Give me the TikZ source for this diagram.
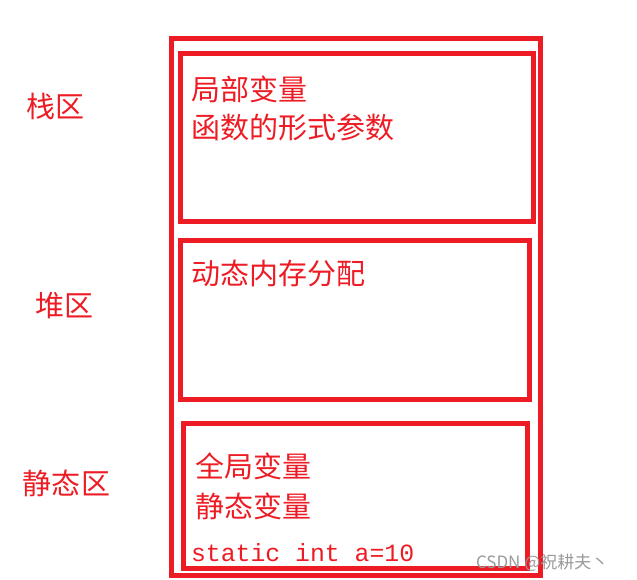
\documentclass[tikz,border=0pt]{standalone}
\usepackage{xcolor}
\usepackage{fontspec}
\usepackage{tikz}
\newfontfamily\cjk{Noto Sans CJK SC}
\setmonofont{Liberation Mono}
\definecolor{paintred}{HTML}{ED1C24}
\tikzset{x=1pt, y=-1pt,
         every node/.style={inner sep=0pt, outer sep=0pt},
         box/.style={draw=paintred, line width=5pt},
         txt/.style={anchor=base west, text=paintred, font=\cjk\fontsize{29}{29}\selectfont},
         code/.style={anchor=base west, text=paintred, font=\ttfamily\fontsize{24.8}{24.8}\selectfont},
         wmark/.style={anchor=base west, text=black!40, font=\cjk\fontsize{17}{17}\selectfont},
         }

\begin{document}
\begin{tikzpicture}
    \useasboundingbox (0,0) rectangle (637,579);

    \node[box, minimum width=368.5pt, minimum height=537.5pt] (mem) at (355.75,306.75) {};
    \node[box, minimum width=353.5pt, minimum height=168pt] (stack) at (356.75,137) {};
    \node[box, minimum width=349pt, minimum height=159pt] (heap) at (354.5,319.5) {};
    \node[box, minimum width=344pt, minimum height=145pt] (static) at (355.5,496) {};

    \node[txt] (l1) at (26,117) {栈区};
    \node[txt] (l2) at (35,316.5) {堆区};
    \node[txt] (l3) at (23,494.5) {静态区};

    \node[txt] (s1) at (191,100) {局部变量};
    \node[txt] (s2) at (191,138.5) {函数的形式参数};
    \node[txt] (h1) at (191,284.3) {动态内存分配};
    \node[txt] (g1) at (195,477) {全局变量};
    \node[txt] (g2) at (195,517) {静态变量};
    \node[code] (g3) at (191,561.7) {static int a=10};

    \node[wmark] (wm) at (476,568) {CSDN @祝耕夫丶};
\end{tikzpicture}
\end{document}
